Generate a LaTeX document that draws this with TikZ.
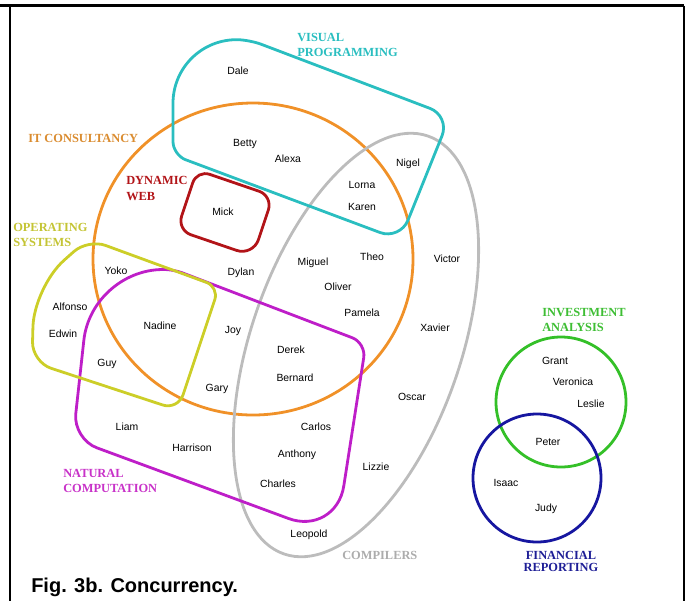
\documentclass[tikz,border=0pt]{standalone}
\usepackage{fontspec}
\setmainfont{Liberation Serif}
\setsansfont{Liberation Sans}
\usetikzlibrary{calc}

% set colours
\definecolor{vpcol}{RGB}{42,190,192}
\definecolor{itcol}{RGB}{240,145,40}
\definecolor{itlab}{RGB}{218,140,48}
\definecolor{dwcol}{RGB}{178,20,24}
\definecolor{oscol}{RGB}{204,206,40}
\definecolor{oslab}{RGB}{196,196,52}
\definecolor{nccol}{RGB}{190,30,200}
\definecolor{nclab}{RGB}{200,50,200}
\definecolor{cocol}{RGB}{188,188,188}
\definecolor{colab}{RGB}{172,172,172}
\definecolor{iacol}{RGB}{52,192,40}
\definecolor{iacolab}{RGB}{62,190,52}
\definecolor{frcol}{RGB}{22,22,160}
\definecolor{frlab}{RGB}{30,30,150}

% rounded corner at #2 between neighbours #1 and #3, radius #4
\newcommand\rcorner[4]{($(#2)!#4!(#1)$) .. controls ($(#2)!0.45*#4!(#1)$) and ($(#2)!0.45*#4!(#3)$) .. ($(#2)!#4!(#3)$)}

\begin{document}
\begin{tikzpicture}[x=0.75pt,y=-0.75pt,
  setline/.style={line width=2.1pt},
  person/.style={font=\sffamily\fontsize{7.8}{9}\selectfont, inner sep=0pt},
  setlabel/.style={font=\rmfamily\bfseries\fontsize{9.3}{11.3}\selectfont, inner sep=0pt, align=left, anchor=west},
  frame/.style={line width=2pt}]

\useasboundingbox (0,0) rectangle (691,601);

% outer frame (open at the bottom)
\coordinate (f0) at (0,5.5);
\coordinate (f1) at (10,5.5);
\coordinate (f2) at (684,5.5);
\coordinate (f3) at (10,601);
\coordinate (f4) at (684,601);
\draw[frame] (f0) -- (f2);
\draw[frame] (f1) -- (f3);
\draw[frame] (f2) -- (f4);

% IT consultancy
\draw[setline, itcol] (253,259) ellipse [x radius=120pt, y radius=117pt];

% compilers
\draw[setline, cocol, rotate around={-19:(356,345)}] (356,345) ellipse [x radius=78.75pt, y radius=165.75pt];

% natural computation
\coordinate (ncTL) at (92,266);
\coordinate (ncT2) at (175,270);
\coordinate (ncTR) at (366,343);
\coordinate (ncBR) at (336,536);
\coordinate (ncBL) at (73,439);
\draw[setline, nccol] \rcorner{ncBL}{ncTL}{ncT2}{56pt} -- \rcorner{ncTL}{ncT2}{ncTR}{6pt}
  -- \rcorner{ncT2}{ncTR}{ncBR}{11pt} -- \rcorner{ncTR}{ncBR}{ncBL}{38pt}
  -- \rcorner{ncBR}{ncBL}{ncTL}{19pt} -- cycle;

% operating systems
\coordinate (osTL) at (88,239);
\coordinate (osTR) at (219,287);
\coordinate (osBR) at (178,410);
\coordinate (osBL) at (32,362);
\coordinate (osLM) at (34,287);
\draw[setline, oscol] \rcorner{osLM}{osTL}{osTR}{14pt} -- \rcorner{osTL}{osTR}{osBR}{10pt}
  -- \rcorner{osTR}{osBR}{osBL}{12pt} -- \rcorner{osBR}{osBL}{osLM}{15pt}
  -- \rcorner{osBL}{osLM}{osTL}{30pt} -- cycle;

% visual programming
\coordinate (vpTL) at (173,38);
\coordinate (vpT2) at (250,40);
\coordinate (vpTR) at (450,116);
\coordinate (vpBR) at (400,240);
\coordinate (vpBL) at (173,155);
\draw[setline, vpcol] \rcorner{vpBL}{vpTL}{vpT2}{49pt} -- \rcorner{vpTL}{vpT2}{vpTR}{9pt}
  -- \rcorner{vpT2}{vpTR}{vpBR}{16pt} -- \rcorner{vpTR}{vpBR}{vpBL}{16pt}
  -- \rcorner{vpBR}{vpBL}{vpTL}{10pt} -- cycle;

% dynamic web
\coordinate (dwTL) at (197,170);
\coordinate (dwTR) at (273,196);
\coordinate (dwBR) at (253,256);
\coordinate (dwBL) at (177,230);
\draw[setline, dwcol] \rcorner{dwBL}{dwTL}{dwTR}{10pt} -- \rcorner{dwTL}{dwTR}{dwBR}{11pt}
  -- \rcorner{dwTR}{dwBR}{dwBL}{13pt} -- \rcorner{dwBR}{dwBL}{dwTL}{11pt} -- cycle;

% investment analysis and financial reporting
\draw[setline, iacol] (561,402) circle [radius=48.75pt];
\draw[setline, frcol] (537,478) circle [radius=48pt];

% set labels
\node[setlabel, text=vpcol] (lvp) at (297,45) {VISUAL\\PROGRAMMING};
\node[setlabel, text=itlab] (lit) at (28,138) {IT CONSULTANCY};
\node[setlabel, text=dwcol] (ldw) at (126,188.5) {DYNAMIC\\WEB};
\node[setlabel, text=oslab] (los) at (13,234.5) {OPERATING\\SYSTEMS};
\node[setlabel, text=nclab] (lnc) at (63,480.5) {NATURAL\\COMPUTATION};
\node[setlabel, text=colab] (lco) at (342,555) {COMPILERS};
\node[setlabel, text=iacolab] (lia) at (542,319.5) {INVESTMENT\\ANALYSIS};
\node[setlabel, text=frlab, align=center, anchor=center,
      font=\rmfamily\bfseries\fontsize{9.3}{8.4}\selectfont] (lfr) at (561,561.5) {FINANCIAL\\REPORTING};

% people
\node[person] (dale) at (238,71) {Dale};
\node[person] (betty) at (245,144) {Betty};
\node[person] (alexa) at (288,159) {Alexa};
\node[person] (nigel) at (408,164) {Nigel};
\node[person] (lorna) at (362,185) {Lorna};
\node[person] (karen) at (362,207) {Karen};
\node[person] (mick) at (223,212) {Mick};
\node[person] (yoko) at (116,271) {Yoko};
\node[person] (dylan) at (241,273) {Dylan};
\node[person] (miguel) at (313,263) {Miguel};
\node[person] (theo) at (372,257) {Theo};
\node[person] (victor) at (447,259) {Victor};
\node[person] (oliver) at (338,287) {Oliver};
\node[person] (pamela) at (362,313) {Pamela};
\node[person] (alfonso) at (70,307) {Alfonso};
\node[person] (edwin) at (63,334) {Edwin};
\node[person] (nadine) at (160,326) {Nadine};
\node[person] (joy) at (233,331) {Joy};
\node[person] (xavier) at (435,328) {Xavier};
\node[person] (guy) at (107,364) {Guy};
\node[person] (derek) at (291,350) {Derek};
\node[person] (bernard) at (295,378) {Bernard};
\node[person] (gary) at (217,389) {Gary};
\node[person] (oscar) at (412,397) {Oscar};
\node[person] (liam) at (127,427) {Liam};
\node[person] (harrison) at (192,448) {Harrison};
\node[person] (carlos) at (316,427) {Carlos};
\node[person] (anthony) at (297,455) {Anthony};
\node[person] (charles) at (278,484) {Charles};
\node[person] (lizzie) at (376,467) {Lizzie};
\node[person] (leopold) at (309,535) {Leopold};
\node[person] (grant) at (555,361) {Grant};
\node[person] (veronica) at (573,382) {Veronica};
\node[person] (leslie) at (591,404) {Leslie};
\node[person] (peter) at (548,442) {Peter};
\node[person] (isaac) at (506,483) {Isaac};
\node[person] (judy) at (546,509) {Judy};

% caption
\node[font=\sffamily\bfseries\fontsize{15}{18}\selectfont, anchor=base west, inner sep=0pt]
  (caption) at (31,592) {Fig. 3b. Concurrency.};
\end{tikzpicture}
\end{document}
